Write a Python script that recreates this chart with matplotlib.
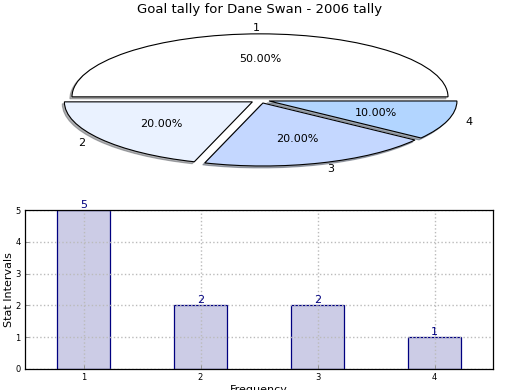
import matplotlib
matplotlib.use("Agg")
import matplotlib.pyplot as plt

title = "Goal tally for Dane Swan - 2006 tally"
categories = ["1", "2", "3", "4"]
values = [5, 2, 2, 1]
pie_colors = ["#ffffff", "#eaf2ff", "#c4d7ff", "#b2d5ff"]
explode = [0.05, 0.05, 0.05, 0.05]

W, H = 520, 390
fig = plt.figure(figsize=(W / 100, H / 100), dpi=100)

# Pie axes: center (260,100), rx=188, ry=63 px; limits +/-1.3
lim = 1.3
rx, ry, cx, cy = 188, 63, 260, 100
axp = fig.add_axes([(cx - rx * lim) / W, (H - (cy + ry * lim)) / H,
                    2 * rx * lim / W, 2 * ry * lim / H])
wedges, texts, autotexts = axp.pie(values, labels=categories, colors=pie_colors,
                                   explode=explode, autopct="%.2f%%",
                                   shadow={"ox": -0.008, "oy": -0.022, "shade": 0.6},
                                   startangle=0, labeldistance=1.1, pctdistance=0.6,
                                   wedgeprops=dict(edgecolor="black", linewidth=0.8),
                                   textprops=dict(fontsize=8))
for w in wedges:
    w.set_clip_on(False)
for p in axp.patches:
    p.set_clip_on(False)
axp.set_aspect("auto")
axp.set_xlim(-lim, lim)
axp.set_ylim(-lim, lim)
axp.axis("off")

fig.text(cx / W, 1 - 10 / H, title, ha="center", va="center", fontsize=9.5)

# Bar axes
axb = fig.add_axes([25 / W, (H - 369) / H, 468 / W, 159 / H])
x = [int(c) for c in categories]
bars = axb.bar(x, values, width=0.45, color="#cccce6", edgecolor="#000080",
               linewidth=0.9, zorder=1)
axb.set_xlim(0.5, 4.5)
axb.set_ylim(0, 5)
axb.set_xticks(x)
axb.set_xticklabels(categories)
axb.set_yticks(range(0, 6))
axb.tick_params(labelsize=6, direction="in", length=3, width=0.6, color="#888888",
                pad=3)
axb.grid(True, linestyle=":", color="#bbbbbb", linewidth=1.0, zorder=2)
axb.set_axisbelow(False)
for xi, v in zip(x, values):
    axb.text(xi, v, str(v), ha="center", va="bottom", color="#000080", fontsize=8)
axb.set_ylabel("Stat Intervals", fontsize=8, labelpad=1)
axb.set_xlabel("Frequency", fontsize=8, labelpad=2)
for s in axb.spines.values():
    s.set_linewidth(0.9)
    s.set_zorder(5)

fig.savefig("out.png", dpi=100)
